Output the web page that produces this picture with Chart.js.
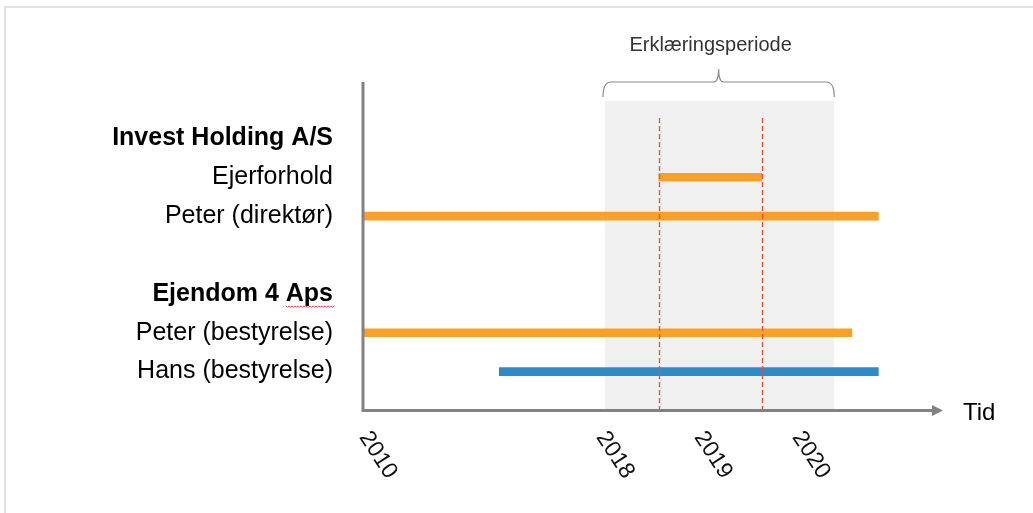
<!DOCTYPE html>
<html lang="da">
<head>
  <meta charset="UTF-8">
  <title>Erklæringsperiode tidslinje</title>
  <script src="https://cdn.jsdelivr.net/npm/chart.js"></script>
  <style>
    body {
      margin: 0;
      background: #fff;
      font-family: 'Liberation Sans', Arial, sans-serif;
    }
    .frame {
      position: absolute;
      left: 4px;
      top: 6px;
      right: 0;
      bottom: 0;
      border-top: 2px solid #e2e2e2;
      border-left: 2px solid #e2e2e2;
    }
    .wrap {
      position: relative;
      width: 1033px;
      height: 513px;
    }
  </style>
</head>
<body>
  <div class="frame"></div>
  <div class="wrap">
    <canvas id="timeline"></canvas>
  </div>

  <script>
    // Rows on the y axis (top to bottom); bold rows are company headings
    const rowLabels = ['Invest Holding A/S', 'Ejerforhold', 'Peter (direktør)', '', 'Ejendom 4 Aps', 'Peter (bestyrelse)', 'Hans (bestyrelse)'];
    const boldRows = [0, 4];

    // Bar start / end in years (null = no bar on that row)
    const barStart = [null, 2018.6, 2010, null, null, 2010, 2014.6];
    const barEnd = [null, 2019.65, 2020.84, null, null, 2020.57, 2020.84];
    const barColors = ['#f8a128', '#f8a128', '#f8a128', '#f8a128', '#f8a128', '#f8a128', '#2e8bc8'];

    // Time axis
    const tickYears = [2010, 2018, 2019, 2020];
    const axisEndYear = 2021.5;
    const periodStart = 2018.05;   // Erklæringsperiode (grey band)
    const periodEnd = 2020.39;
    const markerYears = [2018.6, 2019.65]; // red dashed lines

    // The axis is broken: 2010-2018 is squeezed, one unit per year after 2018
    function toAxis(year) {
      if (year <= 2018) return (year - 2010) / 8 * 2.42;
      return 2.42 + (year - 2018);
    }

    const axisGrey = '#828282';

    const decorations = {
      id: 'decorations',
      beforeDatasetsDraw(chart) {
        const ctx = chart.ctx;
        const x = chart.scales.x;
        const area = chart.chartArea;
        const axisY = area.bottom + 19.5;
        // grey period band
        ctx.save();
        ctx.fillStyle = '#f0f0f0';
        const x1 = x.getPixelForValue(toAxis(periodStart));
        const x2 = x.getPixelForValue(toAxis(periodEnd));
        ctx.fillRect(x1, area.top - 18, x2 - x1, axisY - (area.top - 18));
        ctx.restore();
      },
      afterDatasetsDraw(chart) {
        const ctx = chart.ctx;
        const x = chart.scales.x;
        const y = chart.scales.y;
        const area = chart.chartArea;
        const axisY = area.bottom + 19.5;
        const axisX = area.left;

        ctx.save();
        // red dashed markers
        ctx.strokeStyle = '#ee4b33';
        ctx.lineWidth = 1.3;
        ctx.setLineDash([5, 3]);
        markerYears.forEach(yr => {
          const px = Math.round(x.getPixelForValue(toAxis(yr))) + 0.5;
          ctx.beginPath();
          ctx.moveTo(px, area.top - 1);
          ctx.lineTo(px, axisY);
          ctx.stroke();
        });
        ctx.setLineDash([]);

        // axes
        ctx.strokeStyle = axisGrey;
        ctx.lineWidth = 3;
        ctx.beginPath();
        ctx.moveTo(axisX, area.top - 37);
        ctx.lineTo(axisX, axisY);
        ctx.lineTo(area.right - 10, axisY);
        ctx.stroke();
        ctx.fillStyle = axisGrey;
        ctx.beginPath();
        ctx.moveTo(area.right, axisY);
        ctx.lineTo(area.right - 11, axisY - 5.5);
        ctx.lineTo(area.right - 11, axisY + 5.5);
        ctx.closePath();
        ctx.fill();

        ctx.fillStyle = '#000';
        ctx.font = '24px "Liberation Sans", Arial, sans-serif';
        ctx.textBaseline = 'middle';
        ctx.textAlign = 'left';
        ctx.fillText('Tid', area.right + 20, axisY + 3);

        // rotated year labels
        ctx.font = '23px "Liberation Sans", Arial, sans-serif';
        ctx.fillStyle = '#111';
        tickYears.forEach(yr => {
          const px = x.getPixelForValue(toAxis(yr)) + 1;
          ctx.save();
          ctx.translate(px, axisY + 23);
          ctx.rotate(57 * Math.PI / 180);
          ctx.fillText(String(yr), 0, 0);
          ctx.restore();
        });

        // brace over the period + caption
        const b1 = x.getPixelForValue(toAxis(periodStart)) - 2;
        const b2 = x.getPixelForValue(toAxis(periodEnd));
        const bm = (b1 + b2) / 2;
        const by = area.top - 37;
        ctx.strokeStyle = '#8a8a8a';
        ctx.lineWidth = 1.2;
        ctx.beginPath();
        ctx.moveTo(b1, by + 15);
        ctx.quadraticCurveTo(b1, by, b1 + 8, by);
        ctx.lineTo(bm - 5, by);
        ctx.quadraticCurveTo(bm, by, bm, by - 13);
        ctx.quadraticCurveTo(bm, by, bm + 5, by);
        ctx.lineTo(b2 - 8, by);
        ctx.quadraticCurveTo(b2, by, b2, by + 15);
        ctx.stroke();

        ctx.fillStyle = '#333';
        ctx.font = '20px "Liberation Sans", Arial, sans-serif';
        ctx.textAlign = 'center';
        ctx.fillText('Erklæringsperiode', bm - 8, 45);

        // spell-check squiggle under "Aps"
        const sy = y.getPixelForValue(4) + 12;
        ctx.strokeStyle = '#e34040';
        ctx.lineWidth = 1;
        ctx.beginPath();
        for (let sx = 286, k = 0; sx <= 334; sx += 1.5, k++) {
          const yy = sy + (k % 2 === 0 ? 0 : 1.5);
          if (k === 0) ctx.moveTo(sx, yy); else ctx.lineTo(sx, yy);
        }
        ctx.stroke();
        ctx.restore();
      }
    };

    const ctx = document.getElementById('timeline').getContext('2d');
    new Chart(ctx, {
      type: 'bar',
      data: {
        labels: rowLabels,
        datasets: [{
          data: rowLabels.map((l, i) => barStart[i] === null ? null : [toAxis(barStart[i]), toAxis(barEnd[i])]),
          backgroundColor: barColors,
          borderWidth: 0,
          borderSkipped: false,
          barThickness: 8
        }]
      },
      options: {
        indexAxis: 'y',
        responsive: true,
        maintainAspectRatio: false,
        animation: false,
        layout: {
          padding: { top: 119, bottom: 122, left: 0, right: 90 }
        },
        scales: {
          x: {
            type: 'linear',
            min: 0,
            max: toAxis(axisEndYear),
            display: false
          },
          y: {
            type: 'category',
            grid: { display: false },
            border: { display: false },
            afterFit(scale) { scale.width = 363; },
            ticks: {
              autoSkip: false,
              padding: 22,
              color: '#000',
              font: c => ({
                family: '"Liberation Sans", Arial, sans-serif',
                size: 25,
                weight: boldRows.includes(c.index) ? 'bold' : 'normal'
              })
            }
          }
        },
        plugins: {
          legend: { display: false },
          tooltip: { enabled: false }
        }
      },
      plugins: [decorations]
    });
  </script>
</body>
</html>
